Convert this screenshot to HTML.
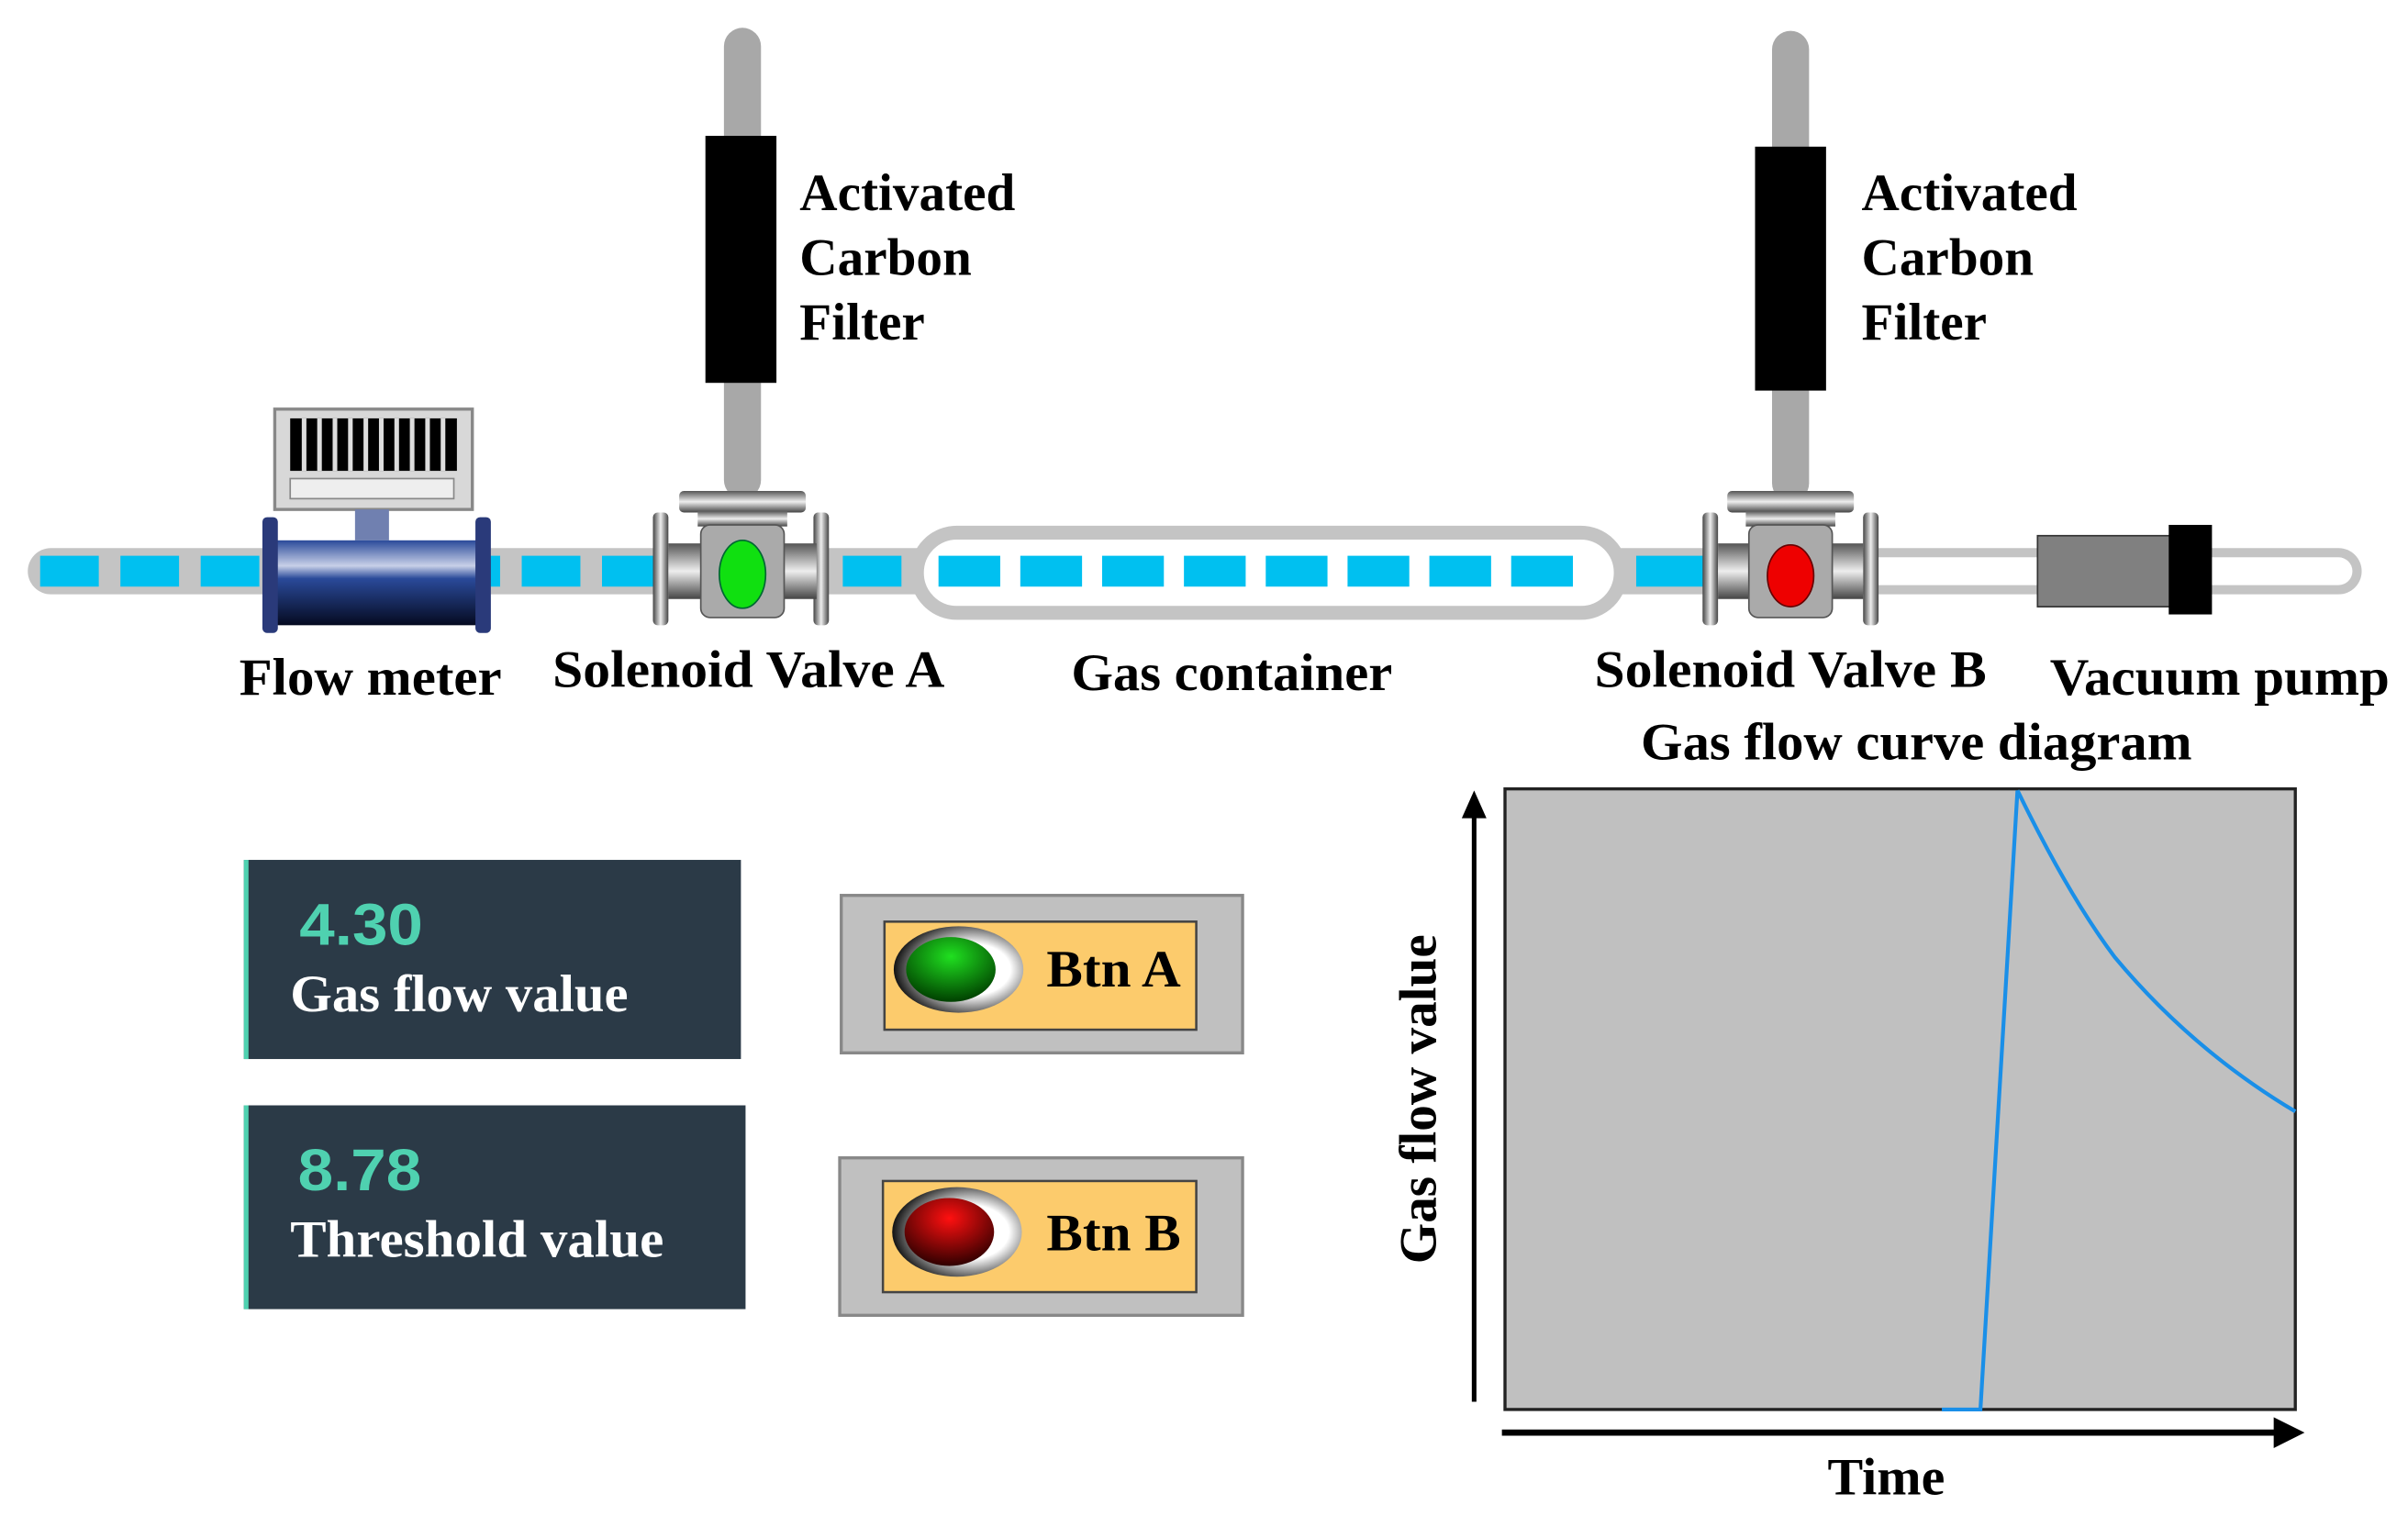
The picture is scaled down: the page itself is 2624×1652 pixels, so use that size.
<!DOCTYPE html>
<html><head><meta charset="utf-8"><style>
html,body{margin:0;padding:0;background:#fff;}
svg{display:block;}
</style></head><body>
<svg width="2624" height="1652" viewBox="0 0 1560 982" preserveAspectRatio="none" xmlns="http://www.w3.org/2000/svg" font-family="Liberation Serif, serif" font-weight="bold">
<defs>
<linearGradient id="blueBody" x1="0" y1="0" x2="0" y2="1"><stop offset="0" stop-color="#2a4a9a"/><stop offset="0.3" stop-color="#c8d0e8"/><stop offset="0.45" stop-color="#2a4a9a"/><stop offset="1" stop-color="#050a20"/></linearGradient>
<linearGradient id="metal" x1="0" y1="0" x2="0" y2="1"><stop offset="0" stop-color="#555"/><stop offset="0.5" stop-color="#eee"/><stop offset="1" stop-color="#444"/></linearGradient>
<linearGradient id="metalH" x1="0" y1="0" x2="1" y2="0"><stop offset="0" stop-color="#444"/><stop offset="0.5" stop-color="#eee"/><stop offset="1" stop-color="#444"/></linearGradient>
<radialGradient id="ring" cx="0.6" cy="0.5" r="0.6"><stop offset="0.5" stop-color="#fff"/><stop offset="1" stop-color="#111"/></radialGradient>
<radialGradient id="gbtn" cx="0.5" cy="0.3" r="0.7"><stop offset="0" stop-color="#20e020"/><stop offset="1" stop-color="#004000"/></radialGradient>
<radialGradient id="rbtn" cx="0.5" cy="0.3" r="0.7"><stop offset="0" stop-color="#ff1010"/><stop offset="1" stop-color="#300000"/></radialGradient>
</defs>

<rect x="18" y="355" width="1100" height="30" rx="15" fill="#c4c4c4"/>
<line x1="26" y1="370" x2="590" y2="370" stroke="#00c0f0" stroke-width="20" stroke-dasharray="38 14"/>
<rect x="1100" y="355" width="430" height="30" rx="15" fill="#c4c4c4"/>
<rect x="1106" y="361" width="418" height="18" rx="9" fill="#fff"/>
<line x1="1060" y1="370" x2="1105" y2="370" stroke="#00c0f0" stroke-width="20"/>
<rect x="594" y="345" width="456" height="52" rx="26" fill="#fff" stroke="#c4c4c4" stroke-width="9"/>
<line x1="608" y1="370" x2="1030" y2="370" stroke="#00c0f0" stroke-width="20" stroke-dasharray="40 13"/>

<rect x="178" y="265" width="128" height="65" fill="#d8d8d8" stroke="#888" stroke-width="2"/>
<rect x="188" y="271" width="108" height="34" fill="#000"/>
<g stroke="#ddd" stroke-width="3"><line x1="197" y1="271" x2="197" y2="305"/><line x1="207" y1="271" x2="207" y2="305"/><line x1="217" y1="271" x2="217" y2="305"/><line x1="227" y1="271" x2="227" y2="305"/><line x1="237" y1="271" x2="237" y2="305"/><line x1="247" y1="271" x2="247" y2="305"/><line x1="257" y1="271" x2="257" y2="305"/><line x1="267" y1="271" x2="267" y2="305"/><line x1="277" y1="271" x2="277" y2="305"/><line x1="287" y1="271" x2="287" y2="305"/></g>
<rect x="188" y="310" width="106" height="13" fill="#eee" stroke="#888"/>
<rect x="230" y="330" width="22" height="20" fill="#7080b0"/>
<rect x="176" y="350" width="140" height="55" fill="url(#blueBody)"/>
<rect x="170" y="335" width="10" height="75" rx="3" fill="#2a3a7a"/>
<rect x="308" y="335" width="10" height="75" rx="3" fill="#2a3a7a"/>

<rect x="469" y="18" width="24" height="305" rx="12" fill="#a8a8a8"/>
<rect x="457" y="88" width="46" height="160" fill="#000"/>
<rect x="440" y="318" width="82" height="14" rx="3" fill="url(#metal)"/>
<rect x="452" y="331" width="58" height="10" fill="url(#metal)"/>
<rect x="423" y="332" width="10" height="73" rx="3" fill="url(#metalH)"/>
<rect x="527" y="332" width="10" height="73" rx="3" fill="url(#metalH)"/>
<rect x="433" y="352" width="22" height="36" fill="url(#metal)"/>
<rect x="507" y="352" width="22" height="36" fill="url(#metal)"/>
<rect x="454" y="340" width="54" height="60" rx="6" fill="#aaa" stroke="#555"/>
<ellipse cx="481" cy="372" rx="15" ry="22" fill="#10e010" stroke="#063"/>

<rect x="1148" y="20" width="24" height="305" rx="12" fill="#a8a8a8"/>
<rect x="1137" y="95" width="46" height="158" fill="#000"/>
<rect x="1119" y="318" width="82" height="14" rx="3" fill="url(#metal)"/>
<rect x="1131" y="331" width="58" height="10" fill="url(#metal)"/>
<rect x="1103" y="332" width="10" height="73" rx="3" fill="url(#metalH)"/>
<rect x="1207" y="332" width="10" height="73" rx="3" fill="url(#metalH)"/>
<rect x="1113" y="352" width="22" height="36" fill="url(#metal)"/>
<rect x="1185" y="352" width="22" height="36" fill="url(#metal)"/>
<rect x="1133" y="340" width="54" height="60" rx="6" fill="#aaa" stroke="#555"/>
<ellipse cx="1160" cy="373" rx="15" ry="20" fill="#e00" stroke="#600"/>

<rect x="1320" y="347" width="86" height="46" fill="#808080" stroke="#333"/>
<rect x="1405" y="340" width="28" height="58" fill="#000"/>

<g font-size="34" fill="#000">
<text x="518" y="136">Activated</text><text x="518" y="178">Carbon</text><text x="518" y="220">Filter</text>
<text x="1206" y="136">Activated</text><text x="1206" y="178">Carbon</text><text x="1206" y="220">Filter</text>
<text x="155" y="450" textLength="170" lengthAdjust="spacingAndGlyphs">Flow meter</text>
<text x="358" y="445" textLength="254" lengthAdjust="spacingAndGlyphs">Solenoid Valve A</text>
<text x="694" y="447" textLength="208" lengthAdjust="spacingAndGlyphs">Gas container</text>
<text x="1033" y="445" textLength="254" lengthAdjust="spacingAndGlyphs">Solenoid Valve B</text>
<text x="1328" y="450" textLength="220" lengthAdjust="spacingAndGlyphs">Vacuum pump</text>
<text x="1063" y="492" textLength="357" lengthAdjust="spacingAndGlyphs">Gas flow curve diagram</text>
</g>

<rect x="158" y="557" width="322" height="129" fill="#2b3a47"/>
<rect x="158" y="557" width="3" height="129" fill="#4fd1b0"/>
<text x="194" y="612" style="font-family:'Liberation Sans Narrow','Liberation Sans',sans-serif" font-size="38" fill="#4fd1b0" textLength="80" lengthAdjust="spacingAndGlyphs">4.30</text>
<text x="188" y="655" font-size="34" fill="#fff" textLength="219" lengthAdjust="spacingAndGlyphs">Gas flow value</text>
<rect x="158" y="716" width="325" height="132" fill="#2b3a47"/>
<rect x="158" y="716" width="3" height="132" fill="#4fd1b0"/>
<text x="193" y="771" style="font-family:'Liberation Sans Narrow','Liberation Sans',sans-serif" font-size="38" fill="#4fd1b0" textLength="80" lengthAdjust="spacingAndGlyphs">8.78</text>
<text x="188" y="814" font-size="34" fill="#fff" textLength="242" lengthAdjust="spacingAndGlyphs">Threshold value</text>

<rect x="545" y="580" width="260" height="102" fill="#c0c0c0" stroke="#888" stroke-width="2"/>
<rect x="573" y="597" width="202" height="70" fill="#fccb6c" stroke="#444" stroke-width="1.5"/>
<ellipse cx="621" cy="628" rx="42" ry="28" fill="url(#ring)"/>
<ellipse cx="616" cy="628" rx="29" ry="21" fill="url(#gbtn)"/>
<text x="678" y="639" font-size="34" textLength="87" lengthAdjust="spacingAndGlyphs">Btn A</text>
<rect x="544" y="750" width="261" height="102" fill="#c0c0c0" stroke="#888" stroke-width="2"/>
<rect x="572" y="765" width="203" height="72" fill="#fccb6c" stroke="#444" stroke-width="1.5"/>
<ellipse cx="620" cy="798" rx="42" ry="29" fill="url(#ring)"/>
<ellipse cx="615" cy="798" rx="29" ry="22" fill="url(#rbtn)"/>
<text x="678" y="810" font-size="34" textLength="87" lengthAdjust="spacingAndGlyphs">Btn B</text>

<rect x="975" y="511" width="512" height="402" fill="#c0c0c0" stroke="#222" stroke-width="2"/>
<line x1="955" y1="908" x2="955" y2="525" stroke="#000" stroke-width="3"/>
<polygon points="955,512 947,530 963,530" fill="#000"/>
<line x1="973" y1="928" x2="1478" y2="928" stroke="#000" stroke-width="4"/>
<polygon points="1493,928 1473,918 1473,938" fill="#000"/>
<polyline points="1258,913 1283,913 1307,512" fill="none" stroke="#1a8fe8" stroke-width="2.5"/>
<path d="M1307,512 Q1340,580 1370,620 Q1420,680 1487,720" fill="none" stroke="#1a8fe8" stroke-width="2.5"/>
<text x="1184" y="968" font-size="34" textLength="76" lengthAdjust="spacingAndGlyphs">Time</text>
<text transform="translate(930,712) rotate(-90)" text-anchor="middle" font-size="34">Gas flow value</text>
</svg>
</body></html>
